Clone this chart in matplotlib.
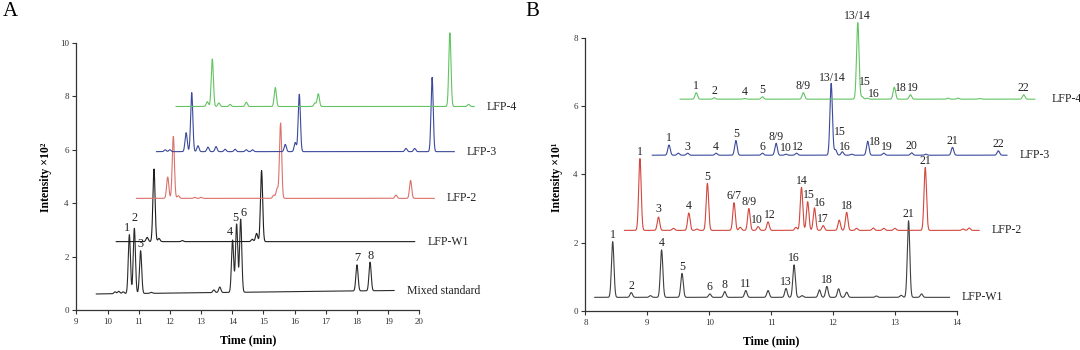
"""
Stacked LC chromatograms: (A) standards + samples, (B) sample fingerprints.
"""
import matplotlib
matplotlib.use("Agg")
import matplotlib.pyplot as plt
import numpy as np

plt.rcParams["font.family"] = ["Liberation Serif", "DejaVu Serif"]

# ---------------------------------------------------------------------------
# Panel A data  (retention time in min, apex intensity x10^2)
# ---------------------------------------------------------------------------
A_NAMES = ["Mixed standard", "LFP-W1", "LFP-2", "LFP-3", "LFP-4"]
A_RANGE = [(9.64, 19.19), (10.28, 19.85), (10.93, 20.48), (11.57, 21.12), (12.20, 21.76)]
A_BASE = [(0.60, 0.73), (2.56, 2.56), (4.18, 4.18), (5.93, 5.93), (7.62, 7.62)]

A_MIX_T = [10.24, 10.36, 10.5, 10.70, 10.86, 11.06, 11.4, 13.41, 13.6, 14.01, 14.14, 14.27, 18.0, 18.42]
A_MIX_H = [0.68, 0.70, 0.68, 2.82, 3.06, 2.22, 0.66, 0.75, 0.86, 2.62, 3.22, 3.40, 1.69, 1.79]
A_W1_T = [11.27, 11.49, 11.65, 12.4, 14.64, 14.78, 14.94]
A_W1_H = [2.72, 5.28, 2.68, 2.60, 2.65, 2.87, 5.22]
A_L2_T = [11.93, 12.11, 12.27, 12.8, 13.0, 15.33, 15.44, 15.55, 19.25, 19.72]
A_L2_H = [4.98, 6.50, 4.28, 4.22, 4.22, 4.30, 4.55, 7.00, 4.30, 4.85]
A_L3_T = [11.85, 12.0, 12.52, 12.70, 12.9, 13.22, 13.48, 13.77, 14.09, 14.45, 14.65,
          15.7, 16.02, 16.15, 19.57, 19.85, 20.41]
A_L3_H = [6.00, 6.00, 6.64, 8.14, 6.15, 6.10, 6.12, 6.02, 6.02, 6.00, 6.00,
          6.20, 6.27, 8.08, 6.05, 6.05, 8.71]
A_L4_T = [13.2, 13.36, 13.57, 13.93, 14.45, 15.38, 16.65, 16.76, 20.98, 21.58]
A_L4_H = [7.80, 9.40, 7.75, 7.70, 7.78, 8.33, 7.75, 8.10, 10.38, 7.70]

A_TIMES = [A_MIX_T, A_W1_T, A_L2_T, A_L3_T, A_L4_T]
A_HEIGHTS = [A_MIX_H, A_W1_H, A_L2_H, A_L3_H, A_L4_H]

# numbered peaks: (label, retention time of the peak it marks)
A_PEAK_LABELS = [
    [("1", 10.70), ("2", 10.86), ("3", 11.06), ("4", 14.01), ("5", 14.14),
     ("6", 14.27), ("7", 18.0), ("8", 18.42)],
    [], [], [], [],
]

# ---------------------------------------------------------------------------
# Panel B data  (retention time in min, apex intensity x10^1)
# ---------------------------------------------------------------------------
B_NAMES = ["LFP-W1", "LFP-2", "LFP-3", "LFP-4"]
B_RANGE = [(8.15, 13.88), (8.63, 14.36), (9.08, 14.81), (9.53, 15.26)]
B_BASE = [(0.40, 0.40), (2.36, 2.36), (4.56, 4.56), (6.20, 6.20)]

B_W1_T = [8.44, 8.74, 9.05, 9.23, 9.56, 10.01, 10.25, 10.59, 10.95, 11.24, 11.37, 11.5,
          11.78, 11.9, 12.09, 12.22, 12.7, 13.1, 13.22, 13.43]
B_W1_H = [2.03, 0.54, 0.45, 1.79, 1.10, 0.50, 0.57, 0.60, 0.60, 0.66, 1.35, 0.45,
          0.62, 0.72, 0.65, 0.55, 0.44, 0.46, 2.64, 0.50]
B_L2_T = [8.88, 9.18, 9.42, 9.67, 9.8, 9.97, 10.40, 10.5, 10.64, 10.79, 10.95, 11.4,
          11.49, 11.59, 11.70, 11.84, 12.1, 12.22, 12.38, 12.65, 12.82, 13.0, 13.49,
          14.1, 14.2]
B_L2_H = [4.46, 2.75, 2.42, 2.87, 2.40, 3.74, 3.17, 2.45, 3.00, 2.47, 2.61, 2.45,
          3.62, 3.20, 3.02, 2.50, 2.66, 2.89, 2.42, 2.43, 2.42, 2.42, 4.20,
          2.40, 2.43]
B_L3_T = [9.35, 9.5, 9.65, 10.11, 10.43, 10.86, 11.08, 11.24, 11.41, 11.97, 12.04,
          12.15, 12.3, 12.56, 12.82, 13.27, 13.5, 13.93, 14.67]
B_L3_H = [4.86, 4.62, 4.62, 4.62, 4.99, 4.62, 4.91, 4.59, 4.62, 6.66, 4.72,
          4.66, 4.59, 4.97, 4.62, 4.63, 4.59, 4.79, 4.69]
B_L4_T = [9.79, 10.08, 10.57, 10.86, 11.52, 12.40, 12.47, 12.55, 12.99, 13.25,
          13.86, 14.02, 14.37, 15.08]
B_L4_H = [6.39, 6.24, 6.22, 6.27, 6.39, 8.44, 6.27, 6.23, 6.55, 6.33,
          6.23, 6.23, 6.22, 6.33]

B_TIMES = [B_W1_T, B_L2_T, B_L3_T, B_L4_T]
B_HEIGHTS = [B_W1_H, B_L2_H, B_L3_H, B_L4_H]

B_PEAK_LABELS = [
    [("1", 8.44), ("2", 8.74), ("4", 9.23), ("5", 9.56), ("6", 10.01), ("8", 10.25),
     ("11", 10.59), ("13", 11.24), ("16", 11.37), ("18", 11.9), ("21", 13.22)],
    [("1", 8.88), ("3", 9.18), ("4", 9.67), ("5", 9.97), ("6/7", 10.40), ("8/9", 10.64),
     ("10", 10.79), ("12", 10.95), ("14", 11.49), ("15", 11.59), ("16", 11.70),
     ("17", 11.84), ("18", 12.22), ("21", 13.49)],
    [("1", 9.35), ("3", 9.65), ("4", 10.11), ("5", 10.43), ("6", 10.86), ("8/9", 11.08),
     ("10", 11.24), ("12", 11.41), ("13/14", 11.97), ("15", 12.04), ("16", 12.15),
     ("18", 12.56), ("19", 12.82), ("20", 13.27), ("21", 13.93), ("22", 14.67)],
    [("1", 9.79), ("2", 10.08), ("4", 10.57), ("5", 10.86), ("8/9", 11.52),
     ("13/14", 12.40), ("15", 12.47), ("16", 12.55), ("18", 12.99), ("19", 13.25),
     ("22", 15.08)],
]

# ---------------------------------------------------------------------------
# Styles
# ---------------------------------------------------------------------------
A_COLOURS = ["#2b2b2b", "#1e1e1e", "#d9726c", "#3b4a9c", "#63c463"]
B_COLOURS = ["#404040", "#d2473e", "#3b4a9c", "#63c463"]

# label nudges in points (panel, trace index, label) -> (dx, dy)
LABEL_NUDGE = {
    ("A", 0, "1"): (-2, 0), ("A", 0, "2"): (0, 3), ("A", 0, "4"): (-2, 1),
    ("A", 0, "5"): (-1, 0), ("A", 0, "6"): (2, 0),
    ("B", 1, "15"): (1, 0), ("B", 1, "16"): (3.5, -1), ("B", 1, "3"): (0, 1),
    ("B", 1, "10"): (-1, 0), ("B", 1, "12"): (1, 0),
    ("B", 2, "15"): (3, 8), ("B", 2, "16"): (2, -1), ("B", 2, "18"): (5, -5),
    ("B", 2, "19"): (2, 0), ("B", 2, "13/14"): (1, -1), ("B", 2, "10"): (0, 0),
    ("B", 2, "12"): (1, 0),
    ("B", 3, "15"): (2, 6), ("B", 3, "16"): (5, -2), ("B", 3, "18"): (5, -5),
    ("B", 3, "19"): (2, 0),
}
NAME_NUDGE = {("B", 3): 3}


def chromatogram(t_range, base, times, heights, sigma):
    """Render a trace as a sum of gaussian peaks on a linear baseline."""
    x = np.linspace(t_range[0], t_range[1], 6000)
    bl = np.interp(x, t_range, base)
    y = bl.copy()
    for t, h in zip(times, heights):
        b_at = np.interp(t, t_range, base)
        y += (h - b_at) * np.exp(-0.5 * ((x - t) / sigma) ** 2)
    return x, y


def style_axes(ax, xlim, ylim, xticks, yticks):
    ax.set_xlim(*xlim)
    ax.set_ylim(*ylim)
    for side in ("top", "right"):
        ax.spines[side].set_visible(False)
    for side in ("left", "bottom"):
        ax.spines[side].set_linewidth(0.9)
        ax.spines[side].set_color("#333333")
    ax.spines["bottom"].set_bounds(xticks[0], xticks[-1])
    ax.spines["left"].set_bounds(yticks[0], yticks[-1])
    ax.set_xticks(xticks)
    ax.set_yticks(yticks)
    ax.tick_params(direction="out", length=3, width=0.8, colors="#333333",
                   labelsize=6.5, pad=2.5)
    ax.patch.set_visible(False)


def draw_panel(ax, key, names, ranges, bases, times, heights, labels, colours,
               sigma, label_size):
    for i, name in enumerate(names):
        x, y = chromatogram(ranges[i], bases[i], times[i], heights[i], sigma)
        ax.plot(x, y, color=colours[i], lw=0.8)
        ax.annotate(name, xy=(ranges[i][1], bases[i][1]),
                    xytext=(9 + NAME_NUDGE.get((key, i), 0), 0),
                    textcoords="offset points", ha="left", va="center",
                    fontsize=8.5, color="#222222")
        for text, t in labels[i]:
            h = heights[i][times[i].index(t)]
            dx, dy = LABEL_NUDGE.get((key, i, text), (0, 0))
            ax.annotate(text, xy=(t, h), xytext=(dx, 2.5 + dy),
                        textcoords="offset points", ha="center", va="baseline",
                        fontsize=label_size, color="#222222")


fig = plt.figure(figsize=(10.8, 3.5), dpi=100)

# Panel A
axA = fig.add_axes([0.0707, 0.1143, 0.4293, 0.8286])
style_axes(axA, (9, 23.87), (0, 10.86), list(range(9, 21)), [0, 2, 4, 6, 8, 10])
draw_panel(axA, "A", A_NAMES, A_RANGE, A_BASE, A_TIMES, A_HEIGHTS, A_PEAK_LABELS,
           A_COLOURS, sigma=0.035, label_size=8.8)

# Panel B
axB = fig.add_axes([0.5421, 0.1114, 0.4579, 0.86])
style_axes(axB, (8, 15.99), (0, 8.81), list(range(8, 15)), [0, 2, 4, 6, 8])
draw_panel(axB, "B", B_NAMES, B_RANGE, B_BASE, B_TIMES, B_HEIGHTS, B_PEAK_LABELS,
           B_COLOURS, sigma=0.02, label_size=8.5)

# axis titles and panel letters
fig.text(46 / 1080, 1 - 177 / 350, "Intensity \u00d710\u00b2", rotation=90,
         ha="center", va="center", fontsize=8.5, fontweight="bold")
fig.text(557 / 1080, 1 - 177 / 350, "Intensity \u00d710\u00b9", rotation=90,
         ha="center", va="center", fontsize=8.5, fontweight="bold")
fig.text(248 / 1080, 1 - 340 / 350, "Time (min)", ha="center", va="center",
         fontsize=8.5, fontweight="bold")
fig.text(771 / 1080, 1 - 341 / 350, "Time (min)", ha="center", va="center",
         fontsize=8.5, fontweight="bold")
fig.text(10 / 1080, 1 - 12 / 350, "A", ha="center", va="center", fontsize=15)
fig.text(532 / 1080, 1 - 12 / 350, "B", ha="center", va="center", fontsize=15)

fig.savefig("out.png", dpi=100, facecolor="white")
plt.close(fig)
